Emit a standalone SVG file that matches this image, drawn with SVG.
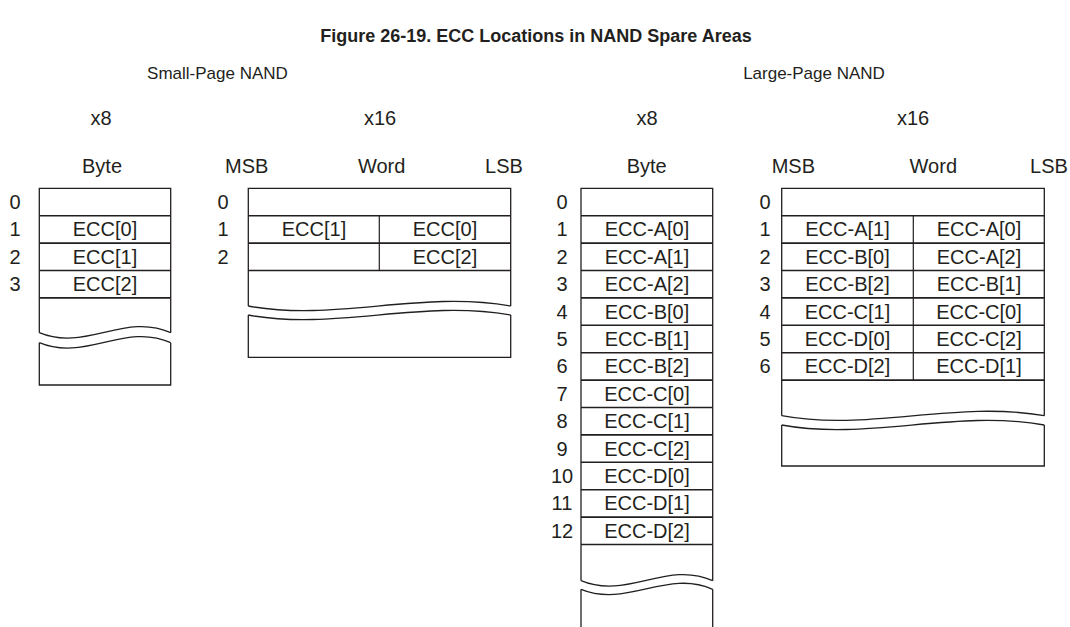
<svg xmlns="http://www.w3.org/2000/svg" width="1070" height="627" viewBox="0 0 1070 627">
<style>
text{font-family:"Liberation Sans",Arial,sans-serif;fill:#231f20;font-size:20px;text-anchor:middle}
.title{font-weight:bold;font-size:18px}
.sub{font-size:17px}
.box{fill:none;stroke:#231f20;stroke-width:1.3}
.row{fill:none;stroke:#231f20;stroke-width:1.6}
.div{fill:none;stroke:#231f20;stroke-width:1.2}
</style>
<rect width="1070" height="627" fill="#ffffff"/>
<text class="title" x="536" y="42">Figure 26-19. ECC Locations in NAND Spare Areas</text>
<text class="sub" x="217.5" y="79">Small-Page NAND</text>
<text class="sub" x="814" y="79">Large-Page NAND</text>
<text x="101" y="125">x8</text>
<text x="380" y="125">x16</text>
<text x="647" y="125">x8</text>
<text x="913" y="125">x16</text>

<g id="small-x8">
<text x="102" y="173">Byte</text>
<path class="box" d="M39.3,332.7 V188.3 H170.7 V332.7"/>
<path class="box" d="M39.3,332.7 C85,352 125,312 170.7,332.7"/>
<path class="box" d="M39.3,342.7 C85,362 125,322 170.7,342.7"/>
<path class="box" d="M39.3,342.7 V385 H170.7 V342.7"/>
<path class="row" d="M39.3,215.7 H170.7 M39.3,243.1 H170.7 M39.3,270.5 H170.7 M39.3,297.9 H170.7"/>
<text x="15" y="209">0</text><text x="15" y="236.4">1</text><text x="15" y="263.8">2</text><text x="15" y="291.2">3</text>
<text x="105" y="236.4">ECC[0]</text><text x="105" y="263.8">ECC[1]</text><text x="105" y="291.2">ECC[2]</text>
</g>

<g id="small-x16">
<text x="246.7" y="173">MSB</text><text x="381.7" y="173">Word</text><text x="504" y="173">LSB</text>
<path class="box" d="M248.3,306 V188.3 H510.7 V306"/>
<path class="box" d="M248.3,306 C335,322 420,290 510.7,306"/>
<path class="box" d="M248.3,315 C335,331 420,299 510.7,315"/>
<path class="box" d="M248.3,315 V357.3 H510.7 V315"/>
<path class="row" d="M248.3,215.7 H510.7 M248.3,243.1 H510.7 M248.3,270.5 H510.7"/>
<path class="div" d="M379.3,215.7 V270.5"/>
<text x="223" y="209">0</text><text x="223" y="236.4">1</text><text x="223" y="263.8">2</text>
<text x="314" y="236.4">ECC[1]</text><text x="445" y="236.4">ECC[0]</text>
<text x="445" y="263.8">ECC[2]</text>
</g>

<g id="large-x8">
<text x="646.7" y="173">Byte</text>
<path class="box" d="M581,580.7 V188.3 H712.7 V580.7"/>
<path class="box" d="M581,580.7 C627,600 667,560 712.7,580.7"/>
<path class="box" d="M581,589.3 C627,608 667,569 712.7,589.3"/>
<path class="box" d="M581,589.3 V640 M712.7,589.3 V640"/>
<path class="row" d="M581,215.7 H712.7 M581,243.1 H712.7 M581,270.5 H712.7 M581,297.9 H712.7 M581,325.3 H712.7 M581,352.7 H712.7 M581,380.1 H712.7 M581,407.5 H712.7 M581,434.9 H712.7 M581,462.3 H712.7 M581,489.7 H712.7 M581,517.1 H712.7 M581,544.5 H712.7"/>
<text x="562" y="209">0</text><text x="562" y="236.4">1</text><text x="562" y="263.8">2</text><text x="562" y="291.2">3</text>
<text x="562" y="318.6">4</text><text x="562" y="346">5</text><text x="562" y="373.4">6</text><text x="562" y="400.8">7</text>
<text x="562" y="428.2">8</text><text x="562" y="455.6">9</text><text x="562" y="483">10</text><text x="562" y="510.4">11</text><text x="562" y="537.8">12</text>
<text x="647" y="236.4">ECC-A[0]</text><text x="647" y="263.8">ECC-A[1]</text><text x="647" y="291.2">ECC-A[2]</text>
<text x="647" y="318.6">ECC-B[0]</text><text x="647" y="346">ECC-B[1]</text><text x="647" y="373.4">ECC-B[2]</text>
<text x="647" y="400.8">ECC-C[0]</text><text x="647" y="428.2">ECC-C[1]</text><text x="647" y="455.6">ECC-C[2]</text>
<text x="647" y="483">ECC-D[0]</text><text x="647" y="510.4">ECC-D[1]</text><text x="647" y="537.8">ECC-D[2]</text>
</g>

<g id="large-x16">
<text x="793.3" y="173">MSB</text><text x="933.3" y="173">Word</text><text x="1049" y="173">LSB</text>
<path class="box" d="M781.7,415.7 V188.3 H1044.3 V415.7"/>
<path class="box" d="M781.7,415.7 C868,432 955,400 1044.3,415.7"/>
<path class="box" d="M781.7,425 C868,441 955,409 1044.3,425"/>
<path class="box" d="M781.7,425 V466 H1044.3 V425"/>
<path class="row" d="M781.7,215.7 H1044.3 M781.7,243.1 H1044.3 M781.7,270.5 H1044.3 M781.7,297.9 H1044.3 M781.7,325.3 H1044.3 M781.7,352.7 H1044.3 M781.7,380.1 H1044.3"/>
<path class="div" d="M913.3,215.7 V380.1"/>
<text x="765" y="209">0</text><text x="765" y="236.4">1</text><text x="765" y="263.8">2</text><text x="765" y="291.2">3</text>
<text x="765" y="318.6">4</text><text x="765" y="346">5</text><text x="765" y="373.4">6</text>
<text x="847.5" y="236.4">ECC-A[1]</text><text x="979" y="236.4">ECC-A[0]</text>
<text x="847.5" y="263.8">ECC-B[0]</text><text x="979" y="263.8">ECC-A[2]</text>
<text x="847.5" y="291.2">ECC-B[2]</text><text x="979" y="291.2">ECC-B[1]</text>
<text x="847.5" y="318.6">ECC-C[1]</text><text x="979" y="318.6">ECC-C[0]</text>
<text x="847.5" y="346">ECC-D[0]</text><text x="979" y="346">ECC-C[2]</text>
<text x="847.5" y="373.4">ECC-D[2]</text><text x="979" y="373.4">ECC-D[1]</text>
</g>
</svg>
